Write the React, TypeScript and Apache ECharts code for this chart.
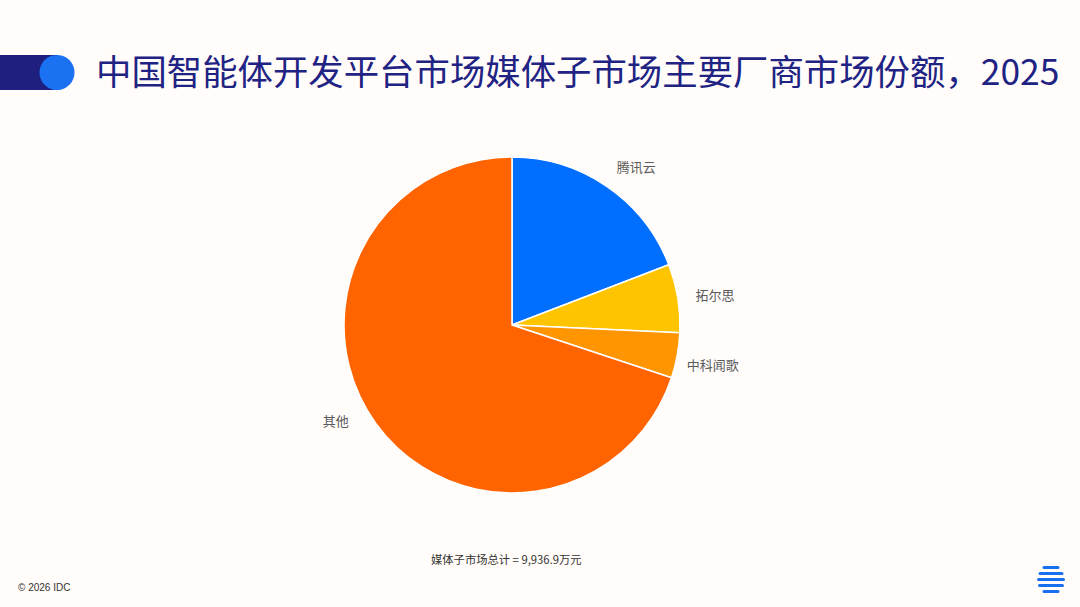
import React, { useEffect, useRef } from "react";
import * as echarts from "echarts";

const titleText = "中国智能体开发平台市场媒体子市场主要厂商市场份额，2025";
const vendors = ["腾讯云", "拓尔思", "中科闻歌", "其他"];
const values = [1904, 653, 433, 6947];
const colors = ["#006EFF", "#FFC400", "#FF9500", "#FF6400"];
const totalNote = "媒体子市场总计 = 9,936.9万元";
const copyright = "© 2026 IDC";

export default function App() {
  const ref = useRef<HTMLDivElement>(null);
  useEffect(() => {
    document.body.style.margin = "0";
    const chart = echarts.init(ref.current!, null, { renderer: "svg" });
    const data = vendors.map((name, i) => {
      const item: any = { name, value: values[i], itemStyle: { color: colors[i] } };
      if (name === "其他") {
        item.labelLine = { length: 0, length2: 22 };
        item.label = { distanceToLabelLine: 5 };
      }
      if (name === "腾讯云") {
        item.labelLine = { length: 24 };
      }
      return item;
    });
    chart.setOption({
      animation: false,
      backgroundColor: "#FFFCF9",
      textStyle: { fontFamily: "Noto Sans CJK SC" },
      graphic: [
        { type: "rect", shape: { x: 0, y: 55, width: 58, height: 35 }, style: { fill: "#1E1F7E" } },
        { type: "circle", shape: { cx: 57, cy: 72.5, r: 17.5 }, style: { fill: "#1A71F2" } },
        {
          type: "text",
          left: 96,
          top: 52,
          style: { text: titleText, fontSize: 35.4, fill: "#1F2383", fontFamily: "Noto Sans CJK SC" },
        },
        {
          type: "text",
          left: 431,
          top: 553,
          style: { text: totalNote, fontSize: 11.3, fill: "#333333", fontFamily: "Noto Sans CJK SC" },
        },
        {
          type: "text",
          left: 18,
          top: 582,
          style: { text: copyright, fontSize: 10, fill: "#333333", fontFamily: "Liberation Sans" },
        },
        {
          type: "group",
          left: 1037,
          top: 566,
          children: [
            { type: "rect", shape: { x: 5.5, y: 0, width: 17, height: 3, r: 1.5 }, style: { fill: "#1A6FF0" } },
            { type: "rect", shape: { x: 1.5, y: 6, width: 25, height: 3, r: 1.5 }, style: { fill: "#1A6FF0" } },
            { type: "rect", shape: { x: 0, y: 12, width: 28, height: 3, r: 1.5 }, style: { fill: "#1A6FF0" } },
            { type: "rect", shape: { x: 1, y: 18, width: 26, height: 3, r: 1.5 }, style: { fill: "#1A6FF0" } },
            { type: "rect", shape: { x: 5.5, y: 24, width: 17, height: 3, r: 1.5 }, style: { fill: "#1A6FF0" } },
          ],
        },
      ],
      series: [
        {
          type: "pie",
          center: [512, 325],
          radius: 168,
          startAngle: 90,
          clockwise: true,
          avoidLabelOverlap: false,
          itemStyle: { borderColor: "#FFFFFF", borderWidth: 1.5 },
          label: {
            show: true,
            position: "outside",
            color: "#595959",
            fontSize: 13,
            fontFamily: "Noto Sans CJK SC",
            distanceToLabelLine: -4,
          },
          labelLine: { show: false, length: 22, length2: 0 },
          labelLayout: (params: any) =>
            params.dataIndex === 2 ? { dx: -8, dy: 5 } : params.dataIndex === 3 ? { dy: -3 } : {},
          emphasis: { disabled: true },
          data,
        },
      ],
    });
    return () => chart.dispose();
  }, []);
  return <div ref={ref} style={{ width: 1080, height: 607 }} />;
}
